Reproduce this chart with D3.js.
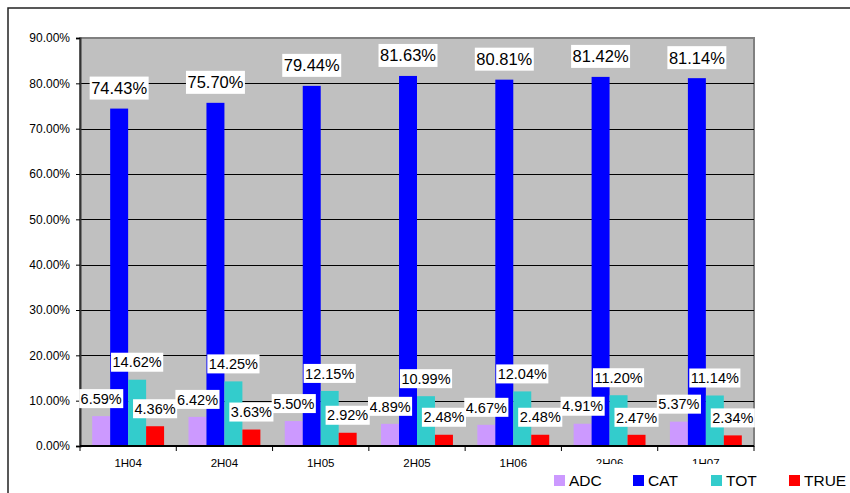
<!DOCTYPE html>
<html>
<head>
<meta charset="utf-8">
<script src="https://cdn.jsdelivr.net/npm/d3@7"></script>
<style>
  body { margin: 0; background: #fff; }
  svg { display: block; font-family: Arial, "Liberation Sans", sans-serif; }
</style>
</head>
<body>
<div id="chart"></div>
<script>
// data
var periods = ["1H04", "2H04", "1H05", "2H05", "1H06", "2H06", "1H07"];
var seriesNames = ["ADC", "CAT", "TOT", "TRUE"];
var adc = [6.59, 6.42, 5.50, 4.89, 4.67, 4.91, 5.37];
var cat = [74.43, 75.70, 79.44, 81.63, 80.81, 81.42, 81.14];
var tot = [14.62, 14.25, 12.15, 10.99, 12.04, 11.20, 11.14];
var trueVals = [4.36, 3.63, 2.92, 2.48, 2.48, 2.47, 2.34];
var yTicks = [0, 10, 20, 30, 40, 50, 60, 70, 80, 90];
var colors = ["#cc99ff", "#0000ff", "#33cccc", "#ff0000"];

var allSeries = [adc, cat, tot, trueVals];

var width = 850, height = 493;
var plot = {left: 80, top: 38, right: 754, bottom: 446};

var svg = d3.select("#chart").append("svg")
    .attr("width", width)
    .attr("height", height);

// outer chart frame (runs off the window on right/bottom)
svg.append("rect")
    .attr("x", 8).attr("y", 8)
    .attr("width", 900).attr("height", 600)
    .attr("fill", "#fff")
    .attr("stroke", "#222")
    .attr("stroke-width", 1.5);

var x = d3.scaleBand().domain(periods).range([plot.left, plot.right]);
var x1 = d3.scaleBand().domain(seriesNames).range([12.2, x.bandwidth() - 12.2]);
var y = d3.scaleLinear().domain([0, 90]).range([plot.bottom, plot.top]);

// plot background
svg.append("rect")
    .attr("x", plot.left).attr("y", plot.top)
    .attr("width", plot.right - plot.left).attr("height", plot.bottom - plot.top)
    .attr("fill", "#c0c0c0")
    .attr("stroke", "#808080")
    .attr("stroke-width", 2);

// gridlines
svg.append("g").selectAll("line")
    .data(yTicks.filter(function(d) { return d > 0 && d < 90; }))
    .enter().append("line")
    .attr("x1", plot.left).attr("x2", plot.right)
    .attr("y1", function(d) { return Math.round(y(d)) + 0.5; })
    .attr("y2", function(d) { return Math.round(y(d)) + 0.5; })
    .attr("stroke", "#000")
    .attr("stroke-width", 1);

// y axis
var yAxis = svg.append("g")
    .attr("transform", "translate(" + plot.left + ",0)")
    .call(d3.axisLeft(y).tickValues(yTicks).tickSize(4).tickPadding(6)
        .tickFormat(function(d) { return d.toFixed(2) + "%"; }));
yAxis.select(".domain").attr("stroke", "#333").attr("stroke-width", 2);
yAxis.selectAll(".tick line").attr("stroke", "#000");
yAxis.selectAll("text").attr("font-size", 12).attr("fill", "#000")
    .attr("font-family", "Arial, 'Liberation Sans', sans-serif");

// bars
var groups = svg.append("g").selectAll("g")
    .data(periods)
    .enter().append("g")
    .attr("transform", function(d) { return "translate(" + x(d) + ",0)"; });

groups.selectAll("rect")
    .data(function(d, i) { return seriesNames.map(function(s, j) { return {s: s, v: allSeries[j][i], j: j}; }); })
    .enter().append("rect")
    .attr("x", function(d) { return x1(d.s); })
    .attr("width", x1.bandwidth())
    .attr("y", function(d) { return y(d.v); })
    .attr("height", function(d) { return y(0) - y(d.v); })
    .attr("fill", function(d) { return colors[d.j]; });

// x axis
var xAxis = svg.append("g")
    .attr("transform", "translate(0," + plot.bottom + ")");
xAxis.append("line")
    .attr("x1", plot.left).attr("x2", plot.right)
    .attr("y1", 0).attr("y2", 0)
    .attr("stroke", "#000").attr("stroke-width", 2);
xAxis.selectAll(".tk")
    .data(periods.concat(["end"]))
    .enter().append("line")
    .attr("x1", function(d, i) { return plot.left + i * x.bandwidth(); })
    .attr("x2", function(d, i) { return plot.left + i * x.bandwidth(); })
    .attr("y1", 0).attr("y2", 5)
    .attr("stroke", "#000");
xAxis.selectAll("text")
    .data(periods)
    .enter().append("text")
    .attr("x", function(d) { return x(d) + x.bandwidth() / 2; })
    .attr("y", 21)
    .attr("text-anchor", "middle")
    .attr("font-size", 11.5)
    .text(function(d) { return d; });

// data labels
var labels = svg.append("g");
seriesNames.forEach(function(s, j) {
  periods.forEach(function(p, i) {
    var v = allSeries[j][i];
    var big = v > 50;
    var fs = big ? 16.5 : 14.5;
    var bh = big ? 23 : 19;
    var cx = x(p) + x1(s) + x1.bandwidth() / 2;
    var bottom = y(v) - (big ? 9 : 8);
    var g = labels.append("g");
    var t = g.append("text")
        .attr("x", cx)
        .attr("y", bottom - bh / 2)
        .attr("dy", "0.36em")
        .attr("text-anchor", "middle")
        .attr("font-size", fs)
        .attr("fill", "#000")
        .text(v.toFixed(2) + "%");
    var w = t.node().getComputedTextLength() + 3;
    g.insert("rect", "text")
        .attr("x", cx - w / 2)
        .attr("y", bottom - bh)
        .attr("width", w)
        .attr("height", bh)
        .attr("fill", "#fff");
  });
});

// legend
var legend = svg.append("g");
legend.append("rect")
    .attr("x", 546).attr("y", 464)
    .attr("width", 320).attr("height", 40)
    .attr("fill", "#fff");
var legX = [554, 633, 711, 789];
seriesNames.forEach(function(s, j) {
  legend.append("rect")
      .attr("x", legX[j]).attr("y", 475)
      .attr("width", 11).attr("height", 11)
      .attr("fill", colors[j]);
  legend.append("text")
      .attr("x", legX[j] + 15)
      .attr("y", 486)
      .attr("font-size", 15.5)
      .attr("fill", "#000")
      .text(s);
});
</script>
</body>
</html>
